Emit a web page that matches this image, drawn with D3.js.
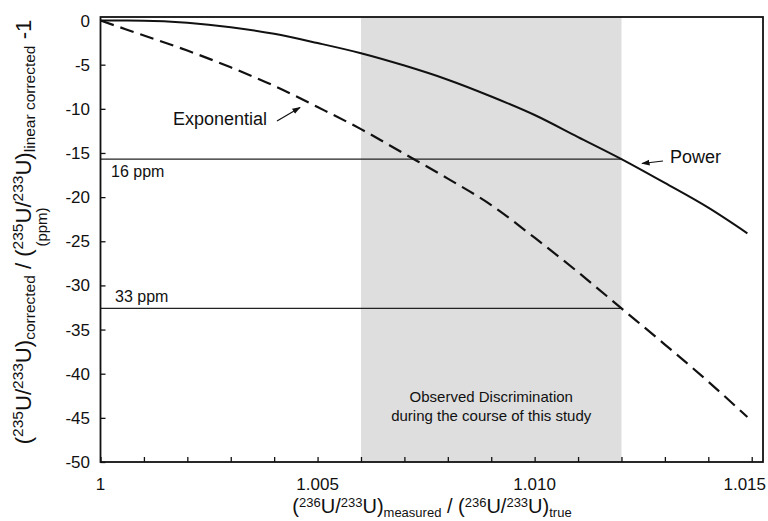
<!DOCTYPE html>
<html>
<head>
<meta charset="utf-8">
<script src="https://cdn.jsdelivr.net/npm/d3@7"></script>
<style>
  html, body { margin: 0; padding: 0; background: #fff; }
  svg { display: block; }
  text { font-family: "Liberation Sans", Arial, Helvetica, sans-serif; fill: #111; }
</style>
</head>
<body>
<svg id="chart" width="768" height="521"></svg>
<script>
// ---- data ----
const xValues = [1.000, 1.001, 1.002, 1.003, 1.004, 1.005, 1.006, 1.007, 1.008, 1.009, 1.010, 1.011, 1.012, 1.013, 1.014, 1.0149];
const powerValues = [0, -0.02, -0.25, -0.75, -1.5, -2.55, -3.7, -5.1, -6.7, -8.6, -10.7, -13.2, -15.7, -18.4, -21.2, -24.1];
const exponentialValues = [0, -1.7, -3.4, -5.3, -7.4, -9.8, -12.3, -15.1, -17.9, -20.9, -24.6, -28.5, -32.6, -36.7, -40.9, -44.9];
const yTickValues = [0, -5, -10, -15, -20, -25, -30, -35, -40, -45, -50];
const xMinorTicks = [1.000, 1.001, 1.002, 1.003, 1.004, 1.005, 1.006, 1.007, 1.008, 1.009, 1.010, 1.011, 1.012, 1.013, 1.014, 1.015];
const xTickLabelValues = [1, 1.005, 1.010, 1.015];
const xTickLabelText = ["1", "1.005", "1.010", "1.015"];
const shadeRange = [1.006, 1.012];
const ppmLevels = [-15.7, -32.6];
const ppmLabels = ["16 ppm", "33 ppm"];
const shadeText = ["Observed Discrimination", "during the course of this study"];

// ---- layout ----
const svg = d3.select("#chart");
const pLeft = 100.5, pRight = 763, pTop = 17, pBottom = 462;
const x = d3.scaleLinear().domain([1, 1.01526]).range([pLeft, pRight]);
const y = d3.scaleLinear().domain([-50, 0.4]).range([pBottom, pTop]);

// shaded region
svg.append("rect")
  .attr("x", x(shadeRange[0])).attr("y", pTop)
  .attr("width", x(shadeRange[1]) - x(shadeRange[0]))
  .attr("height", pBottom - pTop)
  .attr("fill", "#dedede");

// shaded text
svg.append("text")
  .attr("x", x(1.009)).attr("y", 402)
  .attr("text-anchor", "middle").attr("font-size", 15)
  .selectAll("tspan").data(shadeText).join("tspan")
  .attr("x", x(1.009)).attr("dy", (d, i) => i === 0 ? 0 : 19)
  .text(d => d);

// ppm horizontal lines
svg.selectAll(".ppm").data(ppmLevels).join("line")
  .attr("x1", pLeft).attr("x2", x(shadeRange[1]))
  .attr("y1", d => y(d)).attr("y2", d => y(d))
  .attr("stroke", "#222").attr("stroke-width", 1.2);

svg.selectAll(".ppmlab").data(ppmLabels).join("text")
  .attr("x", (d, i) => i === 0 ? 111 : 115)
  .attr("y", (d, i) => i === 0 ? y(ppmLevels[i]) + 18 : y(ppmLevels[i]) - 6)
  .attr("font-size", 16)
  .text(d => d);

// curves
const line = d3.line().x(d => x(d[0])).y(d => y(d[1])).curve(d3.curveMonotoneX);
svg.append("path")
  .datum(xValues.map((v, i) => [v, powerValues[i]]))
  .attr("d", line).attr("fill", "none")
  .attr("stroke", "#111").attr("stroke-width", 2);
svg.append("path")
  .datum(xValues.map((v, i) => [v, exponentialValues[i]]))
  .attr("d", line).attr("fill", "none")
  .attr("stroke", "#111").attr("stroke-width", 2.2)
  .attr("stroke-dasharray", "14,7");

// frame
svg.append("rect")
  .attr("x", pLeft).attr("y", pTop)
  .attr("width", pRight - pLeft).attr("height", pBottom - pTop)
  .attr("fill", "none").attr("stroke", "#111").attr("stroke-width", 1.8);

// y axis (ticks inward)
const yAxis = d3.axisRight(y).tickValues(yTickValues).tickSize(5).tickFormat("");
const yg = svg.append("g").attr("transform", `translate(${pLeft},0)`).call(yAxis);
yg.select(".domain").remove();
yg.selectAll(".tick line").attr("stroke", "#111").attr("stroke-width", 1.3);
svg.selectAll(".ylab").data(yTickValues).join("text")
  .attr("x", 90).attr("y", d => y(d) + 6)
  .attr("text-anchor", "end").attr("font-size", 17)
  .text(d => String(d));

// x axis (ticks inward)
const xAxis = d3.axisTop(x).tickValues(xMinorTicks).tickSize(5).tickFormat("");
const xg = svg.append("g").attr("transform", `translate(0,${pBottom})`).call(xAxis);
xg.select(".domain").remove();
xg.selectAll(".tick line").attr("stroke", "#111").attr("stroke-width", 1.3);
svg.selectAll(".xlab").data(xTickLabelValues).join("text")
  .attr("x", (d, i) => i === xTickLabelValues.length - 1 ? 766 : x(d))
  .attr("y", 490)
  .attr("text-anchor", (d, i) => i === xTickLabelValues.length - 1 ? "end" : "middle")
  .attr("font-size", 17)
  .text((d, i) => xTickLabelText[i]);

// arrow markers
const defs = svg.append("defs");
defs.append("marker").attr("id", "arrow")
  .attr("viewBox", "0 0 10 10").attr("refX", 9).attr("refY", 5)
  .attr("markerWidth", 7).attr("markerHeight", 7).attr("orient", "auto")
  .append("path").attr("d", "M0,1.5 L10,5 L0,8.5 Z").attr("fill", "#111");

// annotations
svg.append("text").attr("x", 173).attr("y", 125).attr("font-size", 18).text("Exponential");
svg.append("line").attr("x1", 277).attr("y1", 121).attr("x2", 300).attr("y2", 107.5)
  .attr("stroke", "#111").attr("stroke-width", 1.2).attr("marker-end", "url(#arrow)");
svg.append("text").attr("x", 670).attr("y", 163).attr("font-size", 18).text("Power");
svg.append("line").attr("x1", 663).attr("y1", 161).attr("x2", 642).attr("y2", 163.5)
  .attr("stroke", "#111").attr("stroke-width", 1.2).attr("marker-end", "url(#arrow)");

// axis titles with super/subscripts
function richText(sel, parts, bigSize, smallSize, supShift, subShift) {
  sel.selectAll("tspan").remove();
  let shift = 0;
  parts.forEach(p => {
    const target = p.t === "sup" ? -supShift : p.t === "sub" ? subShift : 0;
    sel.append("tspan")
      .attr("dy", target - shift)
      .attr("font-size", p.t === "n" ? bigSize : smallSize)
      .text(p.s);
    shift = target;
  });
}
const xParts = [
  {t: "n", s: "("}, {t: "sup", s: "236"}, {t: "n", s: "U/"}, {t: "sup", s: "233"}, {t: "n", s: "U)"},
  {t: "sub", s: "measured"}, {t: "n", s: " / ("}, {t: "sup", s: "236"}, {t: "n", s: "U/"},
  {t: "sup", s: "233"}, {t: "n", s: "U)"}, {t: "sub", s: "true"}
];
const xTitle = svg.append("text").attr("x", 432).attr("y", 513).attr("text-anchor", "middle");
richText(xTitle, xParts, 20, 13, 6, 4);

const yParts = [
  {t: "n", s: "("}, {t: "sup", s: "235"}, {t: "n", s: "U/"}, {t: "sup", s: "233"}, {t: "n", s: "U)"},
  {t: "sub", s: "corrected"}, {t: "n", s: " / ("}, {t: "sup", s: "235"}, {t: "n", s: "U/"},
  {t: "sup", s: "233"}, {t: "n", s: "U)"}, {t: "sub", s: "linear corrected"}, {t: "n", s: " -1"}
];
const yTitle = svg.append("text")
  .attr("transform", "translate(31,232) rotate(-90)")
  .attr("text-anchor", "middle");
richText(yTitle, yParts, 20, 14, 7, 5);
// fit the y title to the span it has in the reference (~425px)
const yLen = yTitle.node().getComputedTextLength();
const k = 425 / yLen;
richText(yTitle, yParts, 20 * k, 14 * k, 7 * k, 4 * k);

svg.append("text")
  .attr("transform", "translate(47,227) rotate(-90)")
  .attr("text-anchor", "middle").attr("font-size", 15)
  .text("(ppm)");
</script>
</body>
</html>
